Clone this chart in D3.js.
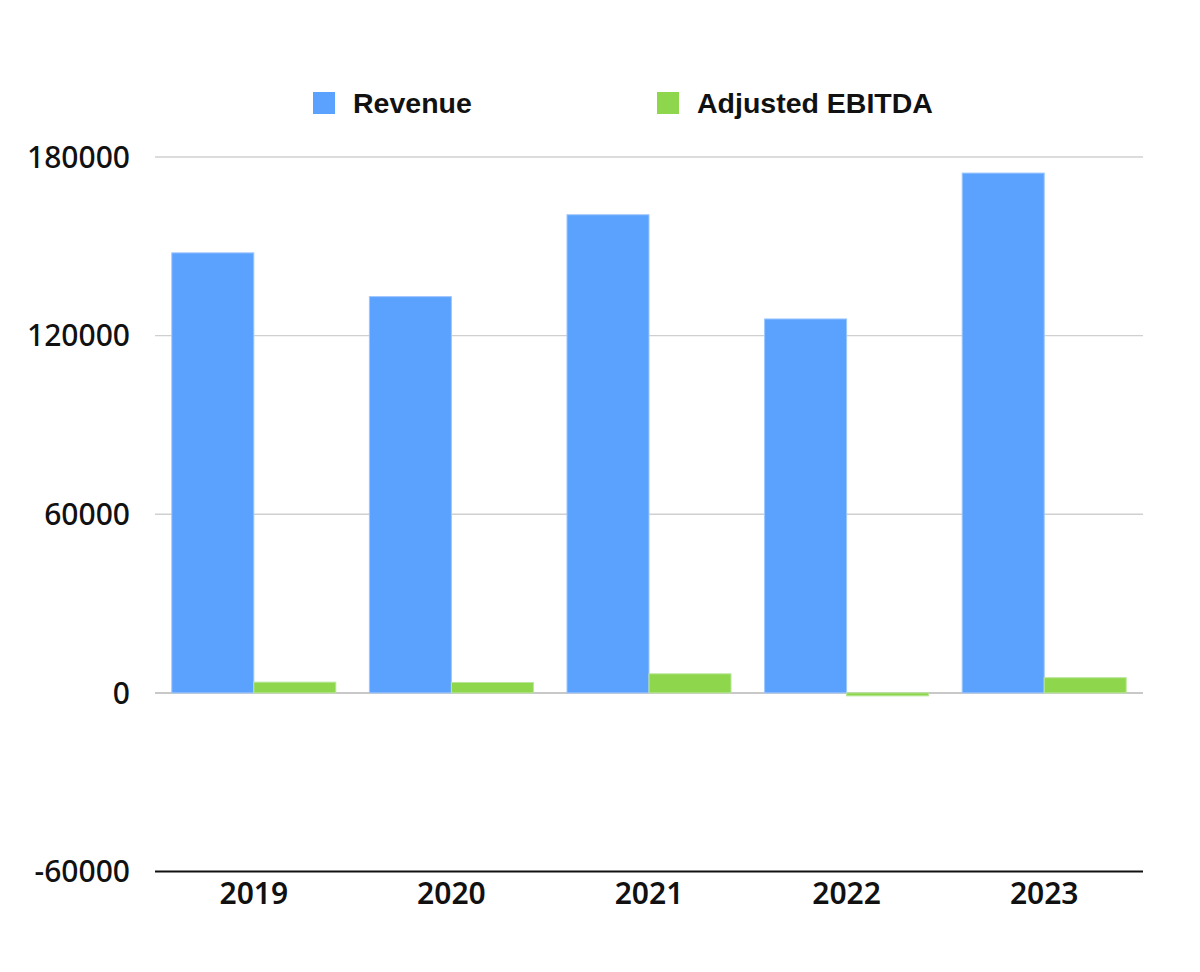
<!DOCTYPE html>
<html>
<head>
<meta charset="utf-8">
<script src="https://cdn.jsdelivr.net/npm/d3@7"></script>
<style>
  body { margin: 0; background: #fff; }
  text { font-family: "Liberation Sans", Arial, sans-serif; }
  .num { font-family: "Noto Sans", "DejaVu Sans", sans-serif; }
</style>
</head>
<body>
<div id="chart"></div>
<script>
const years = ['2019', '2020', '2021', '2022', '2023'];
const seriesNames = ['Revenue', 'Adjusted EBITDA'];
const revenue = [147800, 133100, 160600, 125600, 174600];
const ebitda = [3600, 3500, 6400, -1000, 5100];
const yTicks = [-60000, 0, 60000, 120000, 180000];

const w = 1200;
const h = 972;
const margin = {top: 157, right: 57, bottom: 100, left: 155};
const colors = ['#5ba1fe', '#8ed64c'];
const strokes = ['#9cc6ff', '#b9e69a'];

const svg = d3.select('#chart')
    .append('svg')
    .attr('width', w)
    .attr('height', h);

const x = d3.scaleBand()
    .domain(years)
    .range([margin.left, w - margin.right])
    .paddingInner(0.17)
    .paddingOuter(0.085);

const xSub = d3.scaleBand()
    .domain(seriesNames)
    .range([0, x.bandwidth()]);

const y = d3.scaleLinear()
    .domain([-60000, 180000])
    .range([h - margin.bottom - 0.5, margin.top]);

// grid lines
svg.append('g')
    .selectAll('line')
    .data(yTicks.filter((d) => d !== -60000))
    .enter()
    .append('line')
    .attr('x1', margin.left)
    .attr('x2', w - margin.right)
    .attr('y1', (d) => y(d))
    .attr('y2', (d) => y(d))
    .attr('stroke', (d) => d === 0 ? '#c8c8c8' : '#d0d0d0')
    .attr('stroke-width', (d) => d === 0 ? 2 : 1.3);

// y tick labels
svg.append('g')
    .selectAll('text')
    .data(yTicks)
    .enter()
    .append('text')
    .attr('class', 'num')
    .attr('x', 130)
    .attr('y', (d) => y(d))
    .attr('dy', '0.36em')
    .attr('text-anchor', 'end')
    .attr('font-size', 30)
    .attr('font-weight', 500)
    .attr('fill', '#111')
    .text((d) => d);

// bars
const rows = years.map((yr, i) => ({year: yr, values: [revenue[i], ebitda[i]]}));

const groups = svg.selectAll('g.year')
    .data(rows)
    .enter()
    .append('g')
    .attr('class', 'year')
    .attr('transform', (d) => 'translate(' + x(d.year) + ',0)');

groups.selectAll('rect')
    .data((d) => d.values.map((v, j) => ({name: seriesNames[j], value: v, j: j})))
    .enter()
    .append('rect')
    .attr('x', (d) => xSub(d.name))
    .attr('width', xSub.bandwidth())
    .attr('y', (d) => y(Math.max(0, d.value)))
    .attr('height', (d) => Math.abs(y(d.value) - y(0)))
    .attr('fill', (d) => colors[d.j])
    .attr('stroke', (d) => strokes[d.j])
    .attr('stroke-width', 1);

// bottom axis line
svg.append('line')
    .attr('x1', margin.left)
    .attr('x2', w - margin.right)
    .attr('y1', y(-60000))
    .attr('y2', y(-60000))
    .attr('stroke', '#111')
    .attr('stroke-width', 2);

// x labels
svg.append('g')
    .selectAll('text')
    .data(years)
    .enter()
    .append('text')
    .attr('class', 'num')
    .attr('x', (d) => x(d) + x.bandwidth() / 2)
    .attr('y', y(-60000) + 32)
    .attr('text-anchor', 'middle')
    .attr('font-size', 30)
    .attr('font-weight', 600)
    .attr('fill', '#111')
    .text((d) => d);

// legend
const legendX = [313, 657];
const legend = svg.append('g')
    .selectAll('g')
    .data(seriesNames)
    .enter()
    .append('g')
    .attr('transform', (d, i) => 'translate(' + legendX[i] + ',92)');

legend.append('rect')
    .attr('width', 22)
    .attr('height', 22)
    .attr('fill', (d, i) => colors[i]);

legend.append('text')
    .attr('x', 40)
    .attr('y', 11)
    .attr('dy', '0.36em')
    .attr('font-size', 28.5)
    .attr('font-weight', 'bold')
    .attr('fill', '#111')
    .text((d) => d);
</script>
</body>
</html>
